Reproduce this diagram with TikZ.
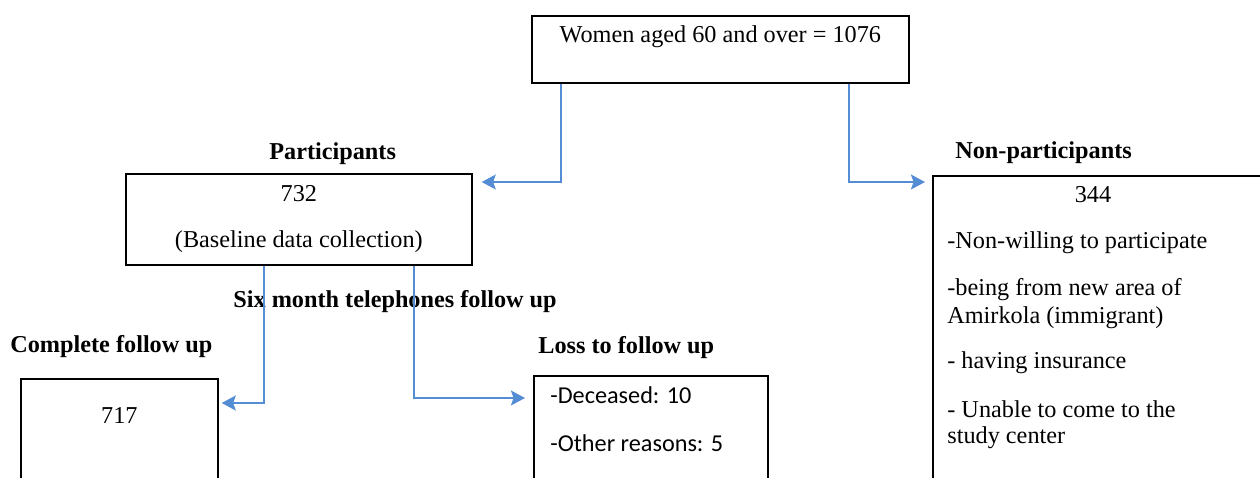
\documentclass[tikz,border=0pt]{standalone}
\usepackage{fontspec}
\setmainfont{Liberation Serif}
\newfontfamily\calibrifont{Carlito}
\usetikzlibrary{arrows.meta}
\definecolor{flowblue}{RGB}{84,141,212}

\begin{document}
\begin{tikzpicture}[x=0.02cm, y=-0.02cm,
    every node/.style = {font=\fontsize{13.8}{16.5}\selectfont},
    box/.style = {draw, line width=1pt, inner sep=0pt, anchor=north west},
    txt/.style = {inner sep=0pt, anchor=base west},
    sans/.style = {txt, font=\fontsize{13.8}{16.5}\selectfont\calibrifont},
    head/.style = {txt, font=\fontsize{13.8}{16.5}\selectfont\bfseries},
    flow/.style = {draw=flowblue, line width=1.1pt, -{Stealth[length=8pt, width=8.5pt, inset=1.5pt]}}]
                \useasboundingbox (0,0) rectangle (1260,477);
                \clip (0,0) rectangle (1260,477);
                % boxes
                \node[box, minimum width=7.54cm, text height=0.54cm, text depth=0.8cm] (women) at (531,15) {Women aged 60 and over = 1076};
                \node[box, minimum width=6.92cm, minimum height=1.82cm, align=center] (part) at (125,173) {732\\[9.6pt](Baseline data collection)};
                \node[box, minimum width=3.94cm, text height=0.9cm, text depth=1.34cm] (comp) at (20,378) {717};
                \node[box, minimum width=4.68cm, minimum height=2.3cm] (loss) at (533,375) {};
                \node[box, minimum width=6.6cm, minimum height=6.3cm] (non) at (932,175) {};
                % headings
                \node[head] (partHead) at (269,159) {Participants};
                \node[head] (nonHead) at (955,158) {Non-participants};
                \node[head] (sixHead) at (233,307) {Six month telephones follow up};
                \node[head] (compHead) at (10,352) {Complete follow up};
                \node[head] (lossHead) at (538,353) {Loss to follow up};
                % box texts
                \node[sans] (dead) at (550,403) {-Deceased: 10};
                \node[sans] (other) at (550,451) {-Other reasons: 5};
                \node[txt, anchor=base] (nonCount) at (1093,202) {344};
                \node[txt] (why1) at (947,248) {-Non-willing to participate};
                \node[txt] (why2) at (947,295) {-being from new area of};
                \node[txt] (why2b) at (947,323) {Amirkola (immigrant)};
                \node[txt] (why3) at (947,368) {- having insurance};
                \node[txt] (why4) at (947,417) {- Unable to come to the};
                \node[txt] (why4b) at (947,443) {study center};
                % connectors
                \draw[flow] ([xshift=0.6cm]women.south west) |- ([xshift=0.18cm, yshift=-0.18cm]part.north east);
                \draw[flow] ([xshift=-1.22cm]women.south east) |- ([xshift=-0.14cm, yshift=-0.14cm]non.north west);
                \draw[flow] ([xshift=2.78cm]part.south west) |- ([xshift=0.06cm, yshift=-0.5cm]comp.north east);
                \draw[flow] ([xshift=5.78cm]part.south west) |- ([xshift=-0.16cm, yshift=-0.46cm]loss.north west);
            \end{tikzpicture}
\end{document}
